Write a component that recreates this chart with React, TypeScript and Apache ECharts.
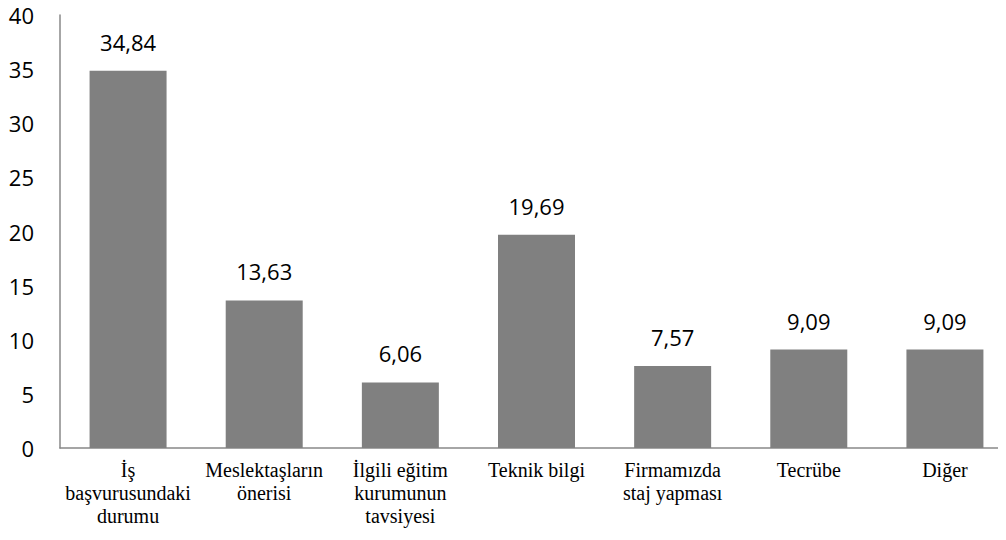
import React, { useEffect, useRef } from "react";
import * as echarts from "echarts";

const categories = [
  "İş\nbaşvurusundaki\ndurumu",
  "Meslektaşların\nönerisi",
  "İlgili eğitim\nkurumunun\ntavsiyesi",
  "Teknik bilgi",
  "Firmamızda\nstaj yapması",
  "Tecrübe",
  "Diğer",
];
const values = [34.84, 13.63, 6.06, 19.69, 7.57, 9.09, 9.09];
const yMin = 0;
const yMax = 40;
const yStep = 5;

const SERIF = "Liberation Serif";
const SANS = "Open Sans";

export default function App() {
  const ref = useRef<HTMLDivElement>(null);
  useEffect(() => {
    const chart = echarts.init(ref.current!, null, { renderer: "svg" });
    chart.setOption({
      animation: false,
      grid: { left: 60, top: 15, width: 953, height: 433, containLabel: false },
      xAxis: {
        type: "category",
        data: categories,
        axisLine: { lineStyle: { color: "#888888", width: 1.5 } },
        axisTick: { show: false },
        axisLabel: {
          interval: 0,
          margin: 10,
          color: "#000",
          fontFamily: SERIF,
          fontSize: 20,
          lineHeight: 23,
        },
      },
      yAxis: {
        type: "value",
        min: yMin,
        max: yMax,
        interval: yStep,
        axisLine: { show: true, lineStyle: { color: "#888888", width: 1.5 } },
        axisTick: { show: false },
        splitLine: { show: false },
        axisLabel: {
          margin: 26,
          fontFamily: SANS,
          fontSize: 22,
          color: "#000",
        },
      },
      series: [
        {
          type: "bar",
          data: values,
          barWidth: 77,
          itemStyle: { color: "#808080" },
          label: {
            show: true,
            position: "top",
            distance: 18,
            fontFamily: SANS,
            fontSize: 22,
            color: "#000",
            formatter: (p: any) => p.value.toFixed(2).replace(".", ","),
          },
        },
      ],
    });
    return () => chart.dispose();
  }, []);
  return (
    <div style={{ width: 1006, height: 540, margin: -8, overflow: "hidden" }}>
      <div ref={ref} style={{ width: 1020, height: 540 }} />
    </div>
  );
}
